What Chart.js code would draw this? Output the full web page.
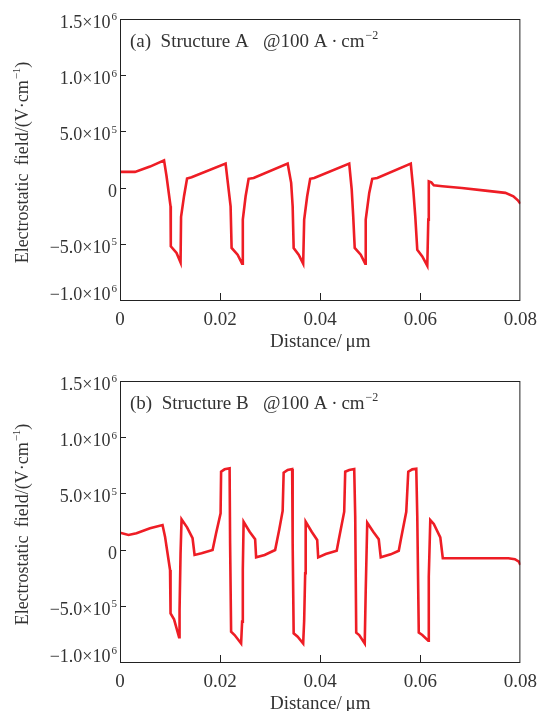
<!DOCTYPE html>
<html>
<head>
<meta charset="utf-8">
<title>Electrostatic field</title>
<script src="https://cdn.jsdelivr.net/npm/chart.js@4.4.1/dist/chart.umd.min.js"></script>
<style>
  html, body { margin: 0; padding: 0; background: #fff; overflow: hidden; }
  #wrap { position: relative; width: 546px; height: 711px; }
  canvas { position: absolute; left: 0; }
  #chartA { top: 0; }
  #chartB { top: 362px; }
</style>
</head>
<body>
<div id="wrap">
  <canvas id="chartA" width="546" height="360"></canvas>
  <canvas id="chartB" width="546" height="360"></canvas>
</div>
<script>
// Structure A: distance (um) / field (V/cm)
const distA = [0, 0.0030, 0.0060, 0.0088, 0.0093, 0.0101, 0.01015, 0.0113, 0.0121, 0.0122, 0.0128, 0.0134, 0.0143,
  0.0211, 0.02155, 0.0221, 0.0223, 0.0235, 0.0244, 0.02454, 0.0251, 0.0257, 0.0267,
  0.0335, 0.0342, 0.0345, 0.0347, 0.0357, 0.0366, 0.0368, 0.0374, 0.0380, 0.0388,
  0.0458, 0.0463, 0.0466, 0.0469, 0.0481, 0.0490, 0.0491, 0.0498, 0.0504, 0.0514,
  0.0581, 0.0586, 0.0590, 0.0594, 0.0604, 0.0614, 0.0616, 0.0617, 0.0622, 0.0627, 0.0644,
  0.0683, 0.0730, 0.0770, 0.0786, 0.0795, 0.0800];
const fieldA = [1.40e5, 1.40e5, 1.87e5, 2.43e5, 1.01e5, -1.67e5, -5.23e5, -5.82e5, -6.66e5, -2.61e5, -0.74e5, 0.80e5, 0.92e5,
  2.14e5, 0.42e5, -1.67e5, -5.37e5, -5.97e5, -6.77e5, -2.85e5, -0.77e5, 0.78e5, 0.86e5,
  2.14e5, 0.42e5, -1.67e5, -5.37e5, -5.97e5, -6.77e5, -2.85e5, -0.77e5, 0.78e5, 0.86e5,
  2.14e5, -0.18e5, -2.56e5, -5.37e5, -5.97e5, -6.77e5, -2.85e5, -0.47e5, 0.78e5, 0.86e5,
  2.14e5, -0.18e5, -2.56e5, -5.53e5, -6.12e5, -6.95e5, -2.85e5, 0.56e5, 0.47e5, 0.20e5, 0.12e5,
  -0.03e5, -0.27e5, -0.47e5, -0.77e5, -1.13e5, -1.43e5];

// Structure B
const distB = [0, 0.0017, 0.0033, 0.0060, 0.0085, 0.0090, 0.0094, 0.0100, 0.0101, 0.0108, 0.0118, 0.0119, 0.0121, 0.0123,
  0.0134, 0.0145, 0.0149, 0.0163, 0.0185, 0.0192, 0.0201, 0.0202, 0.0209, 0.0219, 0.0220, 0.0222, 0.0229, 0.0242,
  0.0244, 0.02454, 0.0247, 0.0259, 0.0270, 0.0272, 0.0289, 0.0310, 0.0318, 0.0325, 0.0327, 0.0335, 0.0344, 0.0345,
  0.0347, 0.0355, 0.0366, 0.0368, 0.0370, 0.0371, 0.0383, 0.0394, 0.0396, 0.0411, 0.0433, 0.0437, 0.0448, 0.0450,
  0.0458, 0.0468, 0.0470, 0.0472, 0.0478, 0.0489, 0.0491, 0.0494, 0.0506, 0.0517, 0.0521, 0.0541, 0.0557, 0.0561,
  0.0572, 0.0576, 0.0584, 0.0592, 0.0594, 0.0597, 0.0604, 0.0616, 0.0617, 0.0620, 0.0627, 0.0640, 0.0645, 0.0690,
  0.0776, 0.0789, 0.0797, 0.0800];
const fieldB = [1.50e5, 1.30e5, 1.45e5, 1.90e5, 2.19e5, 1.15e5, -0.04e5, -1.81e5, -5.67e5, -6.20e5, -7.80e5, -5.37e5, -0.33e5, 2.70e5,
  1.98e5, 1.01e5, -0.48e5, -0.33e5, -0.04e5, 1.45e5, 3.23e5, 6.93e5, 7.14e5, 7.23e5, 0.56e5, -7.30e5, -7.60e5, -8.35e5,
  -6.41e5, -1.81e5, 2.48e5, 1.59e5, 0.92e5, -0.69e5, -0.48e5, -0.04e5, 1.74e5, 3.44e5, 6.84e5, 7.08e5, 7.17e5, 0.56e5,
  -7.45e5, -7.75e5, -8.35e5, -6.30e5, -2.11e5, 2.48e5, 1.59e5, 0.85e5, -0.69e5, -0.39e5, -0.10e5, 0.85e5, 3.37e5, 6.93e5,
  7.08e5, 7.17e5, 2.93e5, -7.39e5, -7.60e5, -8.35e5, -3.59e5, 2.39e5, 1.59e5, 0.92e5, -0.69e5, -0.42e5, -0.10e5, 0.85e5,
  3.37e5, 6.93e5, 7.14e5, 7.20e5, 2.93e5, -7.39e5, -7.60e5, -8.10e5, -2.41e5, 2.63e5, 2.28e5, 1.09e5, -0.77e5, -0.77e5,
  -0.77e5, -0.86e5, -1.08e5, -1.37e5];

const xTicks = [0, 0.02, 0.04, 0.06, 0.08];
const yTickVals = [1.5e6, 1.0e6, 5e5, 0, -5e5, -1.0e6];
const yTickText = ['1.5\u00d710', '1.0\u00d710', '5.0\u00d710', '0', '\u22125.0\u00d710', '\u22121.0\u00d710'];
const yTickExp = ['6', '6', '5', '', '5', '6'];

const SERIF = "'Liberation Serif', 'Times New Roman', serif";
const TXT = '#333';
const RED = '#ee1d25';

// text + superscript, returns drawn width
function supWidth(ctx, base, sup, size) {
    ctx.font = size + 'px ' + SERIF;
    let w = ctx.measureText(base).width;
    ctx.font = Math.round(size * 0.62) + 'px ' + SERIF;
    return w + (sup ? ctx.measureText(sup).width + 1 : 0);
}
function drawSup(ctx, x, y, base, sup, size, tail) {
    ctx.textAlign = 'left';
    ctx.textBaseline = 'alphabetic';
    ctx.font = size + 'px ' + SERIF;
    ctx.fillText(base, x, y);
    x += ctx.measureText(base).width;
    if (sup) {
        ctx.font = Math.round(size * 0.62) + 'px ' + SERIF;
        ctx.fillText(sup, x + 1, y - size * 0.42);
        x += ctx.measureText(sup).width + 1;
    }
    if (tail) {
        ctx.font = size + 'px ' + SERIF;
        ctx.fillText(tail, x, y);
    }
}

const decoPlugin = {
    id: 'deco',
    afterDraw(chart, args, opts) {
        const ctx = chart.ctx;
        const { left, right, top, bottom } = chart.chartArea;
        const xs = chart.scales.x, ys = chart.scales.y;
        ctx.save();
        // frame
        ctx.strokeStyle = '#222';
        ctx.lineWidth = 1;
        ctx.strokeRect(left + 0.5, top + 0.5, right - left - 1, bottom - top);
        // inward ticks
        ctx.beginPath();
        yTickVals.forEach(v => {
            if (v === yTickVals[0] || v === yTickVals[yTickVals.length - 1]) return;
            const py = Math.round(ys.getPixelForValue(v)) + 0.5;
            ctx.moveTo(left, py); ctx.lineTo(left + 6, py);
        });
        xTicks.forEach(v => {
            if (v === 0 || v === 0.08) return;
            const px = Math.round(xs.getPixelForValue(v)) + 0.5;
            ctx.moveTo(px, bottom); ctx.lineTo(px, bottom - 7);
        });
        ctx.stroke();

        // y tick labels
        ctx.fillStyle = TXT;
        yTickVals.forEach((v, i) => {
            let py = ys.getPixelForValue(v) + 9;
            if (i === yTickVals.length - 1) py -= 9;
            const w = supWidth(ctx, yTickText[i], yTickExp[i], 18);
            drawSup(ctx, 117 - w, py, yTickText[i], yTickExp[i], 18);
        });

        // y title (rotated)
        ctx.save();
        ctx.translate(28, (top + bottom) / 2 + 3);
        ctx.rotate(-Math.PI / 2);
        const tBase = 'Electrostatic\u2009 field/(V\u00b7cm';
        const tw = supWidth(ctx, tBase, '\u22121', 18) + (function () { ctx.font = '18px ' + SERIF; return ctx.measureText(')').width; })();
        drawSup(ctx, -tw / 2, 0, tBase, '\u22121', 18, ')');
        ctx.restore();

        // panel annotation
        drawSup(ctx, left + 10, top + 28, opts.label, '\u22122', 19);
        ctx.restore();
    }
};

function makeChart(id, dist, field, label) {
    const pts = dist.map((d, i) => ({ x: d, y: field[i] }));
    return new Chart(document.getElementById(id), {
        type: 'line',
        data: {
            datasets: [{
                data: pts,
                borderColor: RED,
                borderWidth: 2.6,
                pointRadius: 0,
                tension: 0,
                fill: false
            }]
        },
        options: {
            responsive: false,
            animation: false,
            devicePixelRatio: 1,
            layout: { padding: { left: 0, right: 24, top: 19, bottom: 0 } },
            plugins: {
                legend: { display: false },
                tooltip: { enabled: false },
                deco: { label: label }
            },
            scales: {
                x: {
                    type: 'linear',
                    min: 0, max: 0.08,
                    grid: { display: false, drawTicks: false },
                    border: { display: false },
                    afterBuildTicks: s => { s.ticks = xTicks.map(v => ({ value: v })); },
                    afterFit: s => { s.height = 60; },
                    ticks: {
                        padding: 9,
                        color: TXT,
                        font: { family: SERIF, size: 19 },
                        maxRotation: 0,
                        callback: v => v === 0 ? '0' : v.toFixed(2)
                    },
                    title: {
                        display: true,
                        text: 'Distance/\u2009\u03bcm',
                        color: TXT,
                        font: { family: SERIF, size: 19 },
                        padding: { top: 0, bottom: 7 }
                    }
                },
                y: {
                    min: -1.0e6, max: 1.5e6,
                    grid: { display: false, drawTicks: false },
                    border: { display: false },
                    ticks: { display: false },
                    afterFit: s => { s.width = 120; }
                }
            }
        },
        plugins: [decoPlugin]
    });
}

makeChart('chartA', distA, fieldA, '(a)\u2002Structure A \u2002@100 A\u2009\u00b7\u2009cm');
makeChart('chartB', distB, fieldB, '(b)\u2002Structure B \u2002@100 A\u2009\u00b7\u2009cm');
</script>
</body>
</html>
